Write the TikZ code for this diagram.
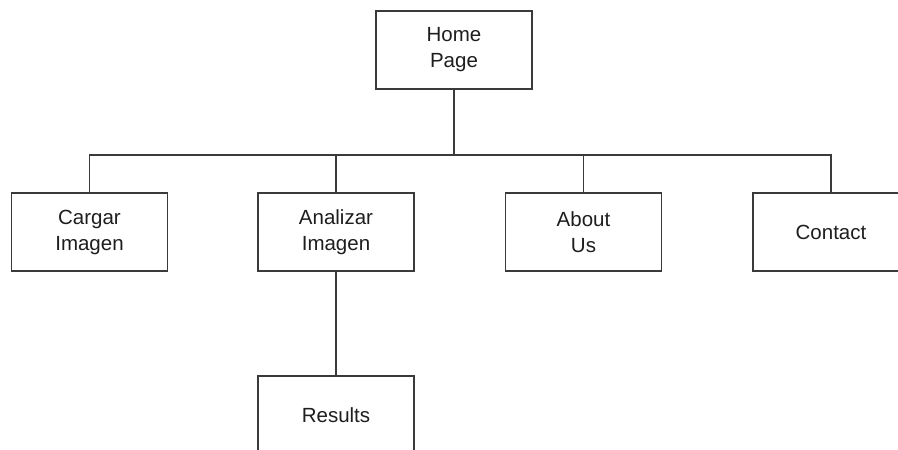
\documentclass[tikz,border=0pt]{standalone}
\usepackage{fontspec}
\setmainfont{Liberation Sans}
\usetikzlibrary{calc}
\definecolor{siteInk}{HTML}{1E1E1E}
\definecolor{siteLine}{HTML}{3A3A3A}
\begin{document}
\begin{tikzpicture}[x=1pt,y=-1pt,line cap=butt,line join=miter]
\clip (0,0) rectangle (898,450);
\path[fill=white] (0,0) rectangle (898,450);
\tikzset{page/.style={draw=siteLine,line width=1.4pt,fill=white,minimum width=156pt,minimum height=78pt,inner sep=0pt,align=center,text=siteInk,font=\fontsize{20.5}{26}\selectfont},link/.style={draw=siteLine,line width=1.4pt}}
\node[page] (home) at (454,50) {Home\\Page};
\node[page] (cargar) at (89.5,232) {Cargar\\Imagen};
\node[page] (analizar) at (336,232) {Analizar\\Imagen};
\node[page] (about) at (583.5,232) {About\\Us};
\node[page] (contact) at (831,232) {Contact};
\node[page] (results) at (336,415) {Results};
\coordinate (bus) at (454,155);
\draw[link] (home.south) -- (home.south |- bus);
\draw[link] (cargar.north) -- (cargar.north |- bus) -- (contact.north |- bus) -- (contact.north);
\draw[link] (analizar.north) -- (analizar.north |- bus);
\draw[link] (about.north) -- (about.north |- bus);
\draw[link] (analizar.south) -- (results.north);
\end{tikzpicture}
\end{document}
